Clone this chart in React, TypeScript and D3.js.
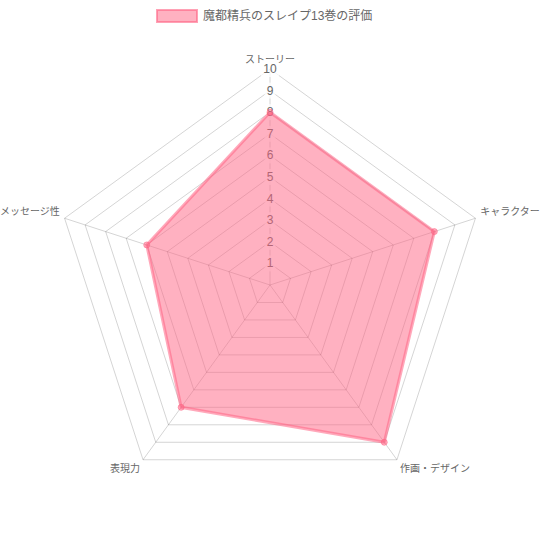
import React from "react";
import * as d3 from "d3";

const title = "魔都精兵のスレイプ13巻の評価";
const categories = ["ストーリー", "キャラクター", "作画・デザイン", "表現力", "メッセージ性"];
const values = [8, 8, 9, 7, 6];
const ticks = [1, 2, 3, 4, 5, 6, 7, 8, 9, 10];

const W = 540, H = 540;
const cx = 270, cy = 285, R = 216;
const FONT = "'Helvetica Neue', Helvetica, Arial, 'Noto Sans CJK JP', sans-serif";

export default function App() {
  const r = d3.scaleLinear().domain([0, 10]).range([0, R]);
  const n = categories.length;
  const ang = (i: number) => (i * 2 * Math.PI) / n; // clockwise from top
  const pt = (i: number, d: number): [number, number] => [cx + d * Math.sin(ang(i)), cy - d * Math.cos(ang(i))];

  const ringPath = (v: number) => {
    const ps = categories.map((_, i) => pt(i, r(v)));
    return d3.line()(ps.concat([ps[0]])) as string;
  };
  const dataPts = values.map((v, i) => pt(i, r(v)));
  const dataPath = d3.line()(dataPts.concat([dataPts[0]])) as string;

  return (
    <svg width={W} height={H} style={{ position: "absolute", left: 0, top: 0, fontFamily: FONT }}>
      {/* legend */}
      <rect x={157} y={10} width={40} height={12} fill="rgba(255,99,132,0.5)" stroke="rgba(255,99,132,0.6)" strokeWidth={2} />
      <text x={203} y={16} dominantBaseline="central" fontSize={12} fill="#666">{title}</text>

      {/* grid */}
      {ticks.map((t) => (
        <path key={t} d={ringPath(t)} fill="none" stroke="rgba(0,0,0,0.17)" strokeWidth={1} />
      ))}
      {categories.map((_, i) => {
        const [x, y] = pt(i, r(10));
        return <line key={i} x1={cx} y1={cy} x2={x} y2={y} stroke="rgba(0,0,0,0.17)" strokeWidth={1} />;
      })}

      {/* tick labels */}
      {ticks.map((t) => {
        const y = cy - r(t);
        const w = t >= 10 ? 14 : 7;
        return (
          <g key={t}>
            <rect x={cx - w / 2 - 2} y={y - 6 - 2} width={w + 4} height={16} fill="rgba(255,255,255,0.75)" />
            <text x={cx} y={y} textAnchor="middle" dominantBaseline="central" fontSize={12} fill="#666">{t}</text>
          </g>
        );
      })}

      {/* point labels */}
      {categories.map((c, i) => {
        const [x, y] = pt(i, r(10) + 5);
        const deg = (i * 360) / n;
        let anchor = "middle";
        if (deg > 0 && deg < 180) anchor = "start";
        else if (deg > 180) anchor = "end";
        let top = y;
        if (deg === 90 || deg === 270) top = y - 5;
        else if (deg > 270 || deg < 90) top = y - 10;
        return (
          <text key={c} x={x} y={top + 5} textAnchor={anchor} dominantBaseline="central" fontSize={10} fill="#666">{c}</text>
        );
      })}

      {/* dataset */}
      <path d={dataPath} fill="rgba(255,99,132,0.5)" stroke="rgba(255,99,132,0.55)" strokeWidth={3} strokeLinejoin="miter" />
      {dataPts.map(([x, y], i) => (
        <circle key={i} cx={x} cy={y} r={3} fill="rgba(255,99,132,0.5)" stroke="rgba(255,99,132,0.55)" strokeWidth={1} />
      ))}
    </svg>
  );
}
